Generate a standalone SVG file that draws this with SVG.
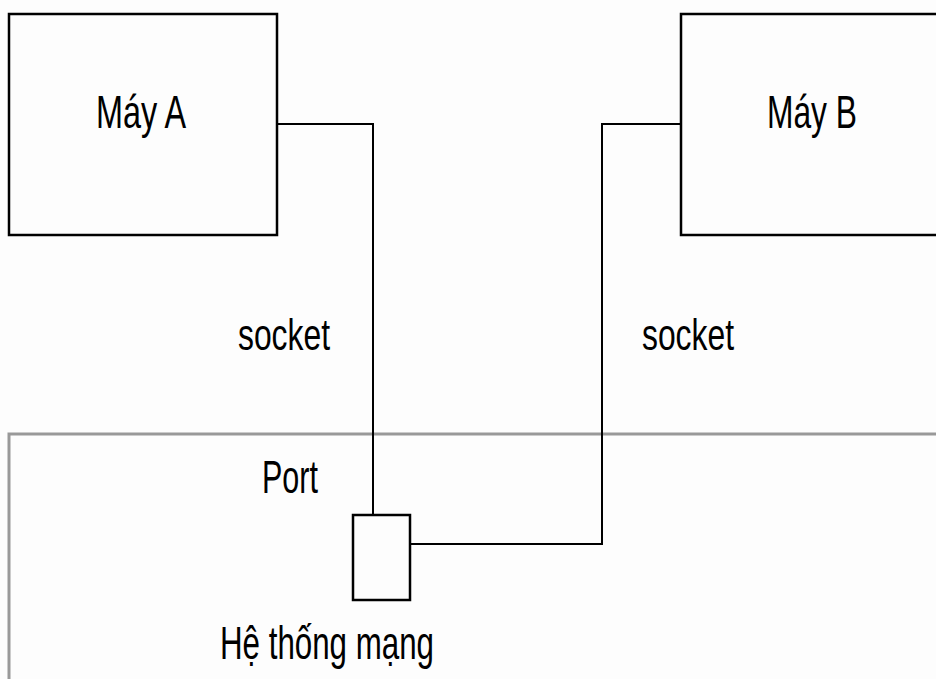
<svg xmlns="http://www.w3.org/2000/svg" width="936" height="679" viewBox="0 0 936 679">
<style>
.box{fill:none;stroke:#000;stroke-width:2.5}
.wire{fill:none;stroke:#000;stroke-width:2}
.net{fill:none;stroke:#999;stroke-width:3}
text{font-family:"Liberation Sans",Arial,sans-serif;font-size:47px;fill:#000}
.sm{font-size:44px}
</style>
<rect width="936" height="679" fill="#fdfdfd"/>
<g id="network">
<path class="net" d="M9 679 V434 H936"/>
<text x="262" y="493" textLength="56" lengthAdjust="spacingAndGlyphs">Port</text>
<text x="220" y="659" textLength="214" lengthAdjust="spacingAndGlyphs">Hệ thống mạng</text>
</g>
<g id="machineA">
<rect class="box" x="9" y="14" width="268" height="221"/>
<text x="96" y="128" textLength="90" lengthAdjust="spacingAndGlyphs">Máy A</text>
</g>
<g id="machineB">
<rect class="box" x="681" y="14" width="270" height="221"/>
<text x="767" y="128" textLength="90" lengthAdjust="spacingAndGlyphs">Máy B</text>
</g>
<g id="port">
<rect class="box" x="353" y="515" width="57" height="85"/>
</g>
<g id="connectors">
<path class="wire" d="M277 124 H373 V515"/>
<path class="wire" d="M681 124 H602 V544 H410"/>
</g>
<g id="labels">
<text class="sm" x="238" y="350" textLength="92" lengthAdjust="spacingAndGlyphs">socket</text>
<text class="sm" x="642" y="350" textLength="92" lengthAdjust="spacingAndGlyphs">socket</text>
</g>
</svg>
